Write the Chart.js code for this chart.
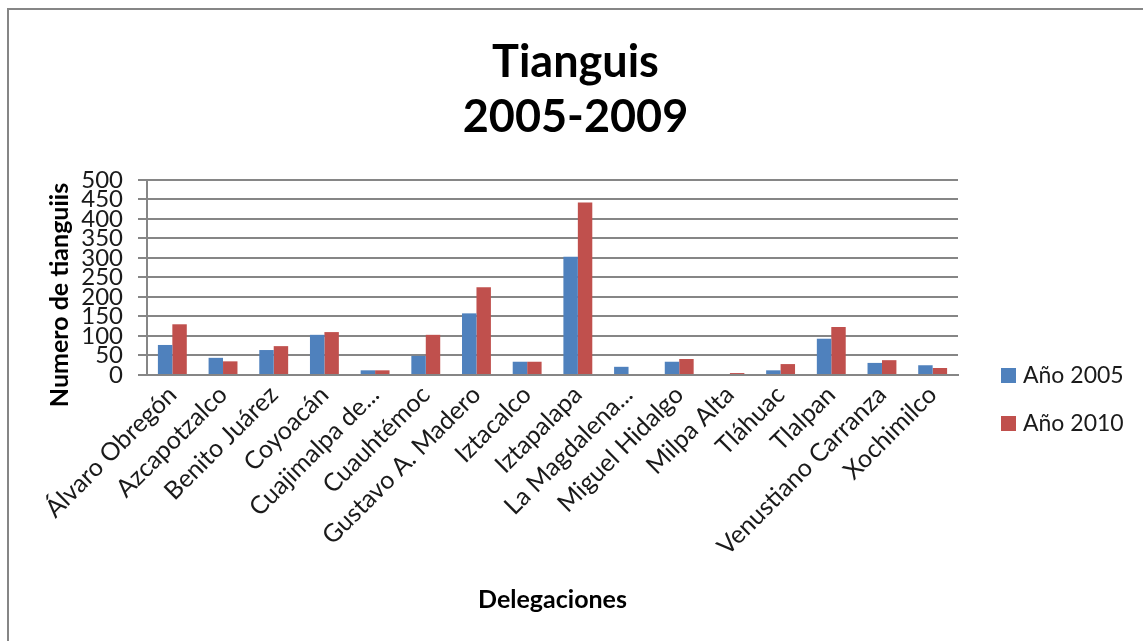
<!DOCTYPE html>
<html>
<head>
<meta charset="utf-8">
<script src="https://cdn.jsdelivr.net/npm/chart.js@4.4.0/dist/chart.umd.min.js"></script>
<style>
  html, body { margin: 0; padding: 0; background: #fff; overflow: hidden; }
</style>
</head>
<body>
<canvas id="myChart" width="1143" height="641"></canvas>
<script>
// delegaciones (x axis categories)
const delegaciones = [
  'Álvaro Obregón', 'Azcapotzalco', 'Benito Juárez', 'Coyoacán', 'Cuajimalpa de...',
  'Cuauhtémoc', 'Gustavo A. Madero', 'Iztacalco', 'Iztapalapa', 'La Magdalena...',
  'Miguel Hidalgo', 'Milpa Alta', 'Tláhuac', 'Tlalpan', 'Venustiano Carranza', 'Xochimilco'
];
// number of tianguis per delegacion
const anio2005 = [77, 44, 64, 103, 12, 49, 158, 34, 303, 21, 34, 0, 12, 93, 31, 25];
const anio2010 = [130, 35, 74, 110, 12, 103, 225, 34, 442, 0, 41, 5, 28, 123, 38, 18];
const seriesNames = ['Año 2005', 'Año 2010'];
const titleLines = ['Tianguis', '2005-2009'];
const yTitle = 'Numero de tianguiis';

const FONT = 'Lato, "Open Sans", sans-serif';
const gray = '#868686';

// frame, y axis title and legend drawn the way excel places them
const excelLook = {
  id: 'excelLook',
  beforeDraw(chart) {
    const ctx = chart.ctx;
    ctx.save();
    ctx.strokeStyle = gray;
    ctx.lineWidth = 2;
    ctx.strokeRect(8, 9, 1300, 800);
    ctx.restore();
  },
  afterDraw(chart) {
    const ctx = chart.ctx;
    ctx.save();
    // y title, excel centres it a bit lower than the plot area
    ctx.save();
    ctx.translate(60, 295);
    ctx.rotate(-Math.PI / 2);
    ctx.font = 'bold 25px ' + FONT;
    ctx.textAlign = 'center';
    ctx.textBaseline = 'middle';
    ctx.fillStyle = '#000';
    ctx.fillText(yTitle, 0, 0);
    ctx.restore();

    ctx.font = '23px ' + FONT;
    ctx.textBaseline = 'middle';
    chart.data.datasets.forEach((ds, i) => {
      const y = 376 + i * 48;
      ctx.fillStyle = ds.backgroundColor;
      ctx.fillRect(1001, y - 8, 15, 15);
      ctx.fillStyle = '#1a1a1a';
      ctx.fillText(ds.label, 1023, y);
    });
    ctx.restore();
  }
};

const ctx = document.getElementById('myChart').getContext('2d');
new Chart(ctx, {
  type: 'bar',
  data: {
    labels: delegaciones,
    datasets: [
      { label: seriesNames[0], data: anio2005, backgroundColor: '#4F81BD' },
      { label: seriesNames[1], data: anio2010, backgroundColor: '#C0504D' }
    ]
  },
  options: {
    responsive: false,
    animation: false,
    layout: { padding: { left: 8, top: 8, right: 0, bottom: 8 } },
    datasets: {
      bar: { categoryPercentage: 0.57, barPercentage: 1 }
    },
    scales: {
      x: {
        grid: { display: false, drawTicks: false },
        border: { display: true, color: gray, width: 2 },
        ticks: {
          autoSkip: false,
          maxRotation: 45,
          minRotation: 45,
          padding: 5,
          color: '#1a1a1a',
          font: { family: FONT, size: 25 }
        },
        title: {
          display: true,
          text: 'Delegaciones',
          color: '#000',
          font: { family: FONT, size: 25, weight: 'bold' },
          padding: { top: 0, bottom: 18 }
        },
        afterFit: (scale) => { scale.height = 258; }
      },
      y: {
        min: 0,
        max: 500,
        grid: { color: gray, lineWidth: 2, tickLength: 9 },
        border: { display: true, color: gray, width: 2 },
        ticks: {
          stepSize: 50,
          autoSkip: false,
          padding: 15,
          color: '#1a1a1a',
          font: { family: FONT, size: 24, lineHeight: 1 }
        },
        title: { display: false },
        afterFit: (scale) => { scale.width = 139; }
      },
      // empty axis only used to keep room for the legend on the right
      legendSpace: {
        type: 'linear',
        position: 'right',
        grid: { display: false },
        border: { display: false },
        ticks: { display: false },
        afterFit: (scale) => { scale.width = 185; }
      }
    },
    plugins: {
      legend: { display: false },
      tooltip: { enabled: false },
      title: {
        display: true,
        text: titleLines,
        color: '#000',
        font: { family: FONT, size: 45, weight: 'bold', lineHeight: 1.244 },
        padding: { top: 26, bottom: 34 }
      }
    }
  },
  plugins: [excelLook]
});
</script>
</body>
</html>
